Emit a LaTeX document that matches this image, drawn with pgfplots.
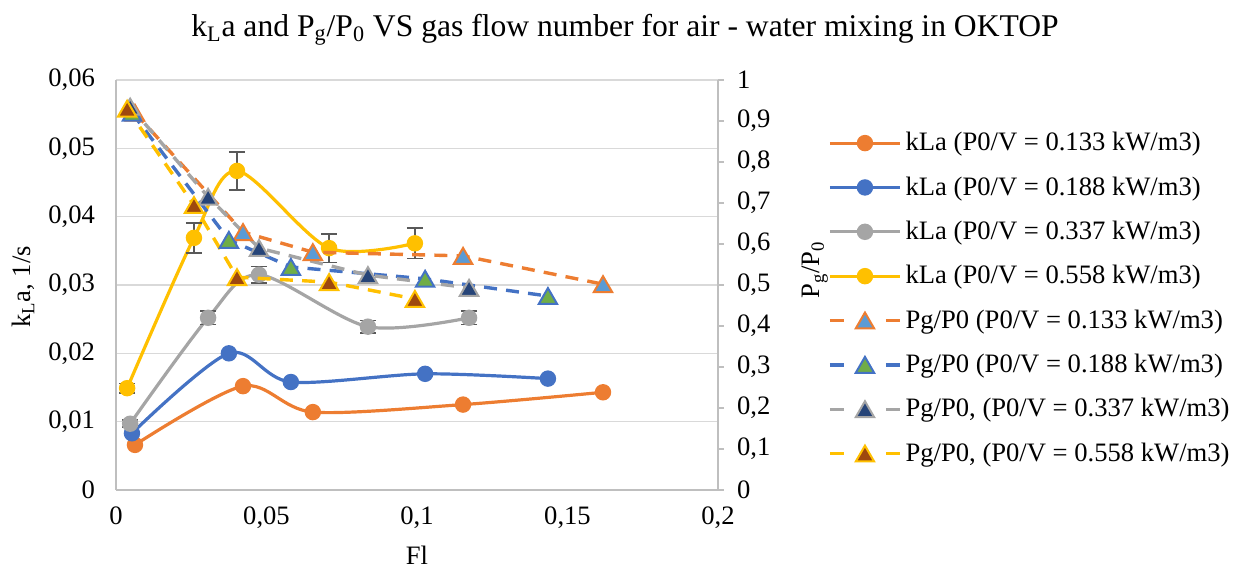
\documentclass[border=0pt]{standalone}
\usepackage{pgfplots}
\pgfplotsset{compat=1.18}
\usepackage{fontspec}
\setmainfont{Liberation Serif}
\definecolor{cA}{HTML}{ED7D31}
\definecolor{cB}{HTML}{4472C4}
\definecolor{cC}{HTML}{A5A5A5}
\definecolor{cD}{HTML}{FFC000}
\definecolor{fA}{HTML}{5B9BD5}
\definecolor{fB}{HTML}{70AD47}
\definecolor{fC}{HTML}{264478}
\definecolor{fD}{HTML}{9E480E}
\definecolor{gridgray}{HTML}{D9D9D9}
\definecolor{axgray}{HTML}{BFBFBF}
\definecolor{errgray}{HTML}{595959}
\newcommand\bodyfont{\fontsize{13.3}{15}\selectfont}
\newcommand\titlefont{\fontsize{15.8}{18}\selectfont}
\pgfplotsset{
  common/.style={at={(0pt,0pt)}, anchor=south west, scale only axis,
    width=301pt, height=205pt, xmin=0, xmax=0.2,
    font=\bodyfont, scaled ticks=false,
    /pgf/number format/use comma, /pgf/number format/fixed,
    /pgf/number format/precision=3, /pgf/number format/assume math mode=true},
  kla/.style={color=#1, line width=1.6pt, smooth, tension=0.5, mark=*,
    mark size=3.3pt, mark options={solid, fill=#1, draw=#1}},
  pg/.style 2 args={color=#1, line width=1.7pt, dash pattern=on 6.5pt off 4.6pt,
    mark=triangle*, mark size=5.3pt,
    mark options={solid, fill=#2, draw=#1, line width=1pt, yshift=-1.3pt},
    legend image code/.code={
      \draw[solid] (0pt,0pt)--(7pt,0pt) (28pt,0pt)--(35pt,0pt);
      \draw plot coordinates {(17.5pt,0pt)};}},
  ebar/.style={error bars/.cd, y dir=both, y explicit,
    error bar style={color=errgray, line width=0.8pt, solid},
    error mark options={rotate=90, mark size=4pt, line width=0.8pt, color=errgray}}
}
\begin{document}
\begin{tikzpicture}
\useasboundingbox (-58pt,-41.5pt) rectangle (567pt,245pt);
\begin{axis}[common, ymin=0, ymax=0.06,
  xtick={0,0.05,0.1,0.15,0.2}, ytick={0,0.01,0.02,0.03,0.04,0.05,0.06},
  axis x line*=bottom, axis y line*=left,
  axis line style={draw=axgray, line width=0.75pt, -},
  major tick length=0pt, ymajorgrids,
  grid style={draw=gridgray, line width=0.75pt},
  yticklabel style={xshift=-7pt}, xticklabel style={yshift=-5pt}]
\addplot[kla=cA] coordinates {(0.0063,0.0066) (0.0422,0.0152) (0.0654,0.0114) (0.1153,0.0125) (0.1618,0.0143)};
\addplot[kla=cB] coordinates {(0.0053,0.0083) (0.0375,0.0200) (0.0581,0.0158) (0.1027,0.0170) (0.1435,0.0163)};
\addplot[kla=cC, ebar] coordinates {(0.0047,0.0097) +- (0,0.0005) (0.0306,0.0252) +- (0,0.0010) (0.0475,0.0315) +- (0,0.0012) (0.0837,0.0239) +- (0,0.0009) (0.1173,0.0252) +- (0,0.0010)};
\addplot[kla=cD, ebar] coordinates {(0.0037,0.0149) +- (0,0.0007) (0.0259,0.0369) +- (0,0.0022) (0.0402,0.0467) +- (0,0.0028) (0.0708,0.0354) +- (0,0.0021) (0.0993,0.0361) +- (0,0.0022)};
\end{axis}
\begin{axis}[common, ymin=0, ymax=1,
  ytick={0,0.1,0.2,0.3,0.4,0.5,0.6,0.7,0.8,0.9,1},
  axis y line*=right, axis x line=none,
  axis line style={draw=axgray, line width=0.75pt, -},
  tick align=outside, major tick length=3pt,
  tick style={draw=axgray, line width=0.75pt},
  yticklabel style={xshift=3pt},
  legend cell align=left,
  legend style={at={(1.1825,0.883)}, anchor=north west, draw=none, fill=none,
    font=\bodyfont, row sep=7.45pt, inner sep=0pt},
  legend image code/.code={\draw[mark repeat=2,mark phase=2] plot coordinates {(0pt,0pt) (17.5pt,0pt) (35pt,0pt)};}]
\addlegendimage{kla=cA}\addlegendentry{kLa (P0/V = 0.133 kW/m3)}
\addlegendimage{kla=cB}\addlegendentry{kLa (P0/V = 0.188 kW/m3)}
\addlegendimage{kla=cC}\addlegendentry{kLa (P0/V = 0.337 kW/m3)}
\addlegendimage{kla=cD}\addlegendentry{kLa (P0/V = 0.558 kW/m3)}
\addplot[pg={cA}{fA}] coordinates {(0.0063,0.92) (0.0422,0.629) (0.0654,0.580) (0.1153,0.571) (0.1618,0.502)};
\addlegendentry{Pg/P0 (P0/V = 0.133 kW/m3)}
\addplot[pg={cB}{fB}] coordinates {(0.0053,0.92) (0.0375,0.61) (0.0581,0.544) (0.1027,0.515) (0.1435,0.473)};
\addlegendentry{Pg/P0 (P0/V = 0.188 kW/m3)}
\addplot[pg={cC}{fC}] coordinates {(0.0047,0.935) (0.0306,0.715) (0.0475,0.590) (0.0837,0.524) (0.1173,0.493)};
\addlegendentry{Pg/P0, (P0/V = 0.337 kW/m3)}
\addplot[pg={cD}{fD}] coordinates {(0.0037,0.93) (0.0259,0.695) (0.0402,0.519) (0.0708,0.507) (0.0993,0.466)};
\addlegendentry{Pg/P0, (P0/V = 0.558 kW/m3)}
\end{axis}
\node[rotate=90, font=\bodyfont] at (-46.5pt,101.5pt) {k\textsubscript{L}a, 1/s};
\node[rotate=90, font=\bodyfont] at (349.5pt,110pt) {P\textsubscript{g}/P\textsubscript{0}};
\node[font=\bodyfont] at (150.5pt,-32.5pt) {Fl};
\node[font=\titlefont] at (254.5pt,230pt) {k\textsubscript{L}a and P\textsubscript{g}/P\textsubscript{0} VS gas flow number for air - water mixing in OKTOP};
\end{tikzpicture}
\end{document}
